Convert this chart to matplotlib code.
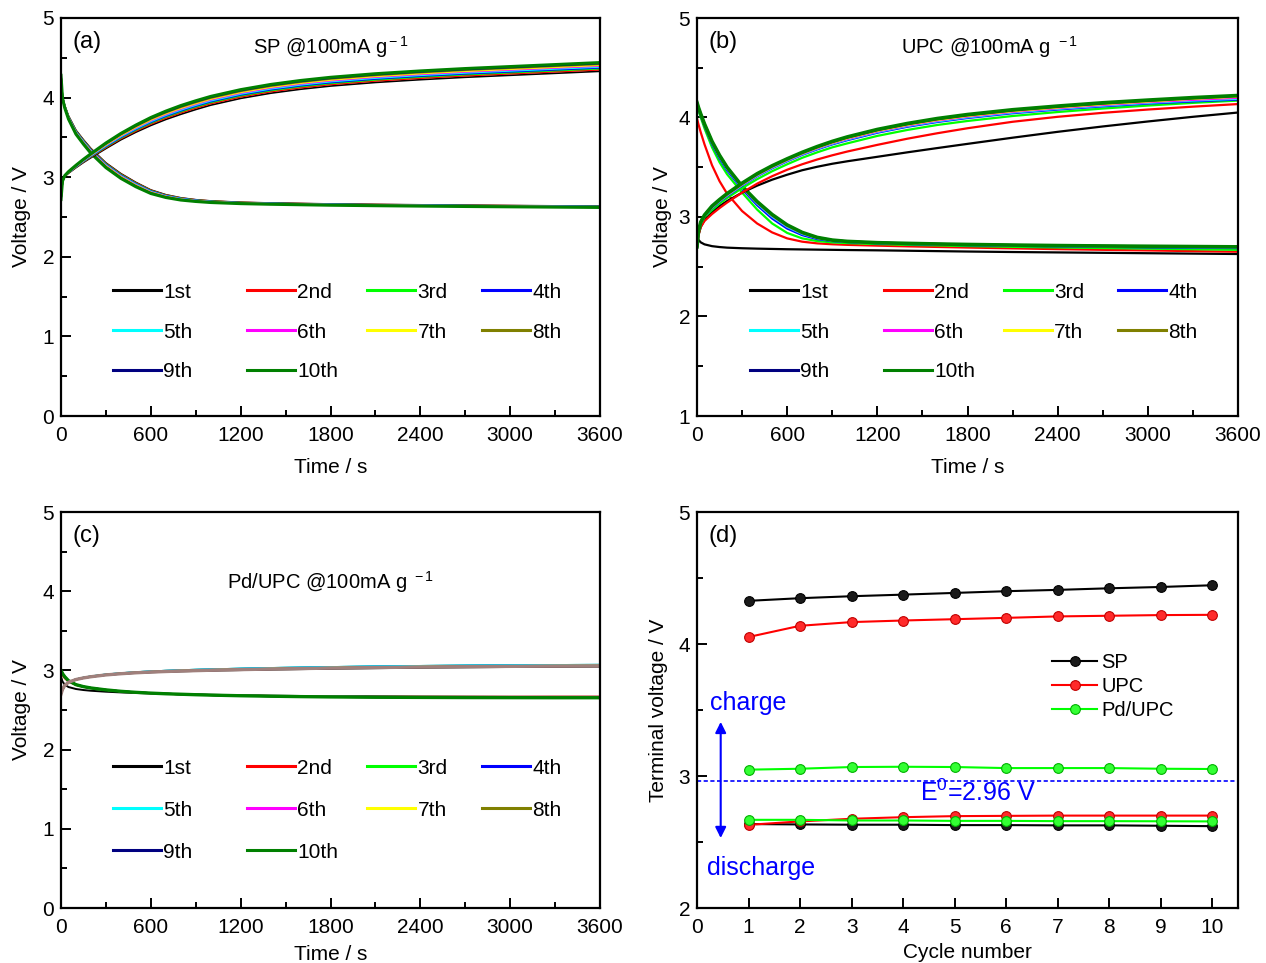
import matplotlib
matplotlib.use("Agg")
import matplotlib.pyplot as plt
from matplotlib.ticker import MultipleLocator
from matplotlib.lines import Line2D
from matplotlib.legend import Legend

plt.rcParams['font.family'] = ['Liberation Sans', 'DejaVu Sans']
plt.rcParams['mathtext.fontset'] = 'custom'
plt.rcParams['mathtext.rm'] = 'Liberation Sans'
plt.rcParams['mathtext.it'] = 'Liberation Sans:italic'

# ---------------- data ----------------
cycle_labels = ['1st', '2nd', '3rd', '4th', '5th', '6th', '7th', '8th', '9th', '10th']
cycle_colors = ['#000000', '#ff0000', '#00ff00', '#0000ff', '#00ffff',
                '#ff00ff', '#ffff00', '#808000', '#000080', '#008000']

time_s = [0, 10, 25, 50, 100, 150, 200, 300, 400, 500, 600, 700, 800, 900, 1000,
          1200, 1400, 1600, 1800, 2100, 2400, 2700, 3000, 3300, 3600]

# (a) SP
a_charge = [
    [2.72, 2.95, 3.01, 3.05, 3.12, 3.185, 3.245, 3.36, 3.47, 3.565, 3.65, 3.725, 3.79, 3.85, 3.905, 3.99, 4.055, 4.105, 4.145, 4.19, 4.225, 4.255, 4.28, 4.305, 4.33],
    [2.72, 2.95, 3.012, 3.053, 3.125, 3.192, 3.254, 3.372, 3.484, 3.58, 3.667, 3.743, 3.809, 3.869, 3.924, 4.009, 4.074, 4.124, 4.164, 4.209, 4.244, 4.274, 4.299, 4.324, 4.349],
    [2.72, 2.95, 3.013, 3.056, 3.129, 3.197, 3.26, 3.381, 3.494, 3.592, 3.68, 3.757, 3.823, 3.883, 3.938, 4.023, 4.088, 4.138, 4.178, 4.223, 4.258, 4.288, 4.313, 4.338, 4.363],
    [2.72, 2.95, 3.014, 3.058, 3.132, 3.201, 3.265, 3.388, 3.502, 3.601, 3.69, 3.767, 3.834, 3.894, 3.949, 4.034, 4.099, 4.149, 4.189, 4.234, 4.269, 4.299, 4.324, 4.349, 4.374],
    [2.72, 2.95, 3.015, 3.06, 3.135, 3.205, 3.27, 3.395, 3.51, 3.61, 3.70, 3.778, 3.845, 3.905, 3.96, 4.045, 4.11, 4.16, 4.20, 4.245, 4.28, 4.31, 4.335, 4.36, 4.385],
    [2.72, 2.95, 3.016, 3.062, 3.138, 3.209, 3.276, 3.403, 3.519, 3.62, 3.711, 3.789, 3.857, 3.917, 3.972, 4.057, 4.122, 4.172, 4.212, 4.257, 4.292, 4.322, 4.347, 4.372, 4.397],
    [2.72, 2.95, 3.017, 3.064, 3.141, 3.213, 3.28, 3.409, 3.526, 3.628, 3.72, 3.799, 3.867, 3.927, 3.982, 4.067, 4.132, 4.182, 4.222, 4.267, 4.302, 4.332, 4.357, 4.382, 4.407],
    [2.72, 2.95, 3.018, 3.066, 3.144, 3.217, 3.285, 3.416, 3.534, 3.637, 3.73, 3.809, 3.878, 3.938, 3.993, 4.078, 4.143, 4.193, 4.233, 4.278, 4.313, 4.343, 4.368, 4.393, 4.418],
    [2.72, 2.95, 3.019, 3.068, 3.147, 3.221, 3.29, 3.422, 3.541, 3.645, 3.739, 3.818, 3.888, 3.948, 4.003, 4.088, 4.153, 4.203, 4.243, 4.288, 4.323, 4.353, 4.378, 4.403, 4.428],
    [2.72, 2.95, 3.02, 3.07, 3.15, 3.225, 3.295, 3.43, 3.55, 3.655, 3.75, 3.83, 3.90, 3.96, 4.015, 4.10, 4.165, 4.215, 4.255, 4.30, 4.335, 4.365, 4.39, 4.415, 4.44],
]
a_discharge = [
    [4.28, 4.01, 3.90, 3.77, 3.59, 3.47, 3.36, 3.18, 3.045, 2.935, 2.84, 2.78, 2.741, 2.717, 2.702, 2.685, 2.676, 2.67, 2.664, 2.658, 2.653, 2.648, 2.644, 2.64, 2.636],
    [4.28, 4.008, 3.897, 3.766, 3.584, 3.464, 3.353, 3.173, 3.038, 2.929, 2.835, 2.776, 2.738, 2.715, 2.70, 2.683, 2.674, 2.668, 2.662, 2.656, 2.651, 2.646, 2.642, 2.638, 2.634],
    [4.28, 4.006, 3.893, 3.761, 3.579, 3.458, 3.347, 3.167, 3.032, 2.923, 2.83, 2.772, 2.735, 2.712, 2.698, 2.681, 2.672, 2.666, 2.66, 2.654, 2.649, 2.644, 2.64, 2.636, 2.632],
    [4.28, 4.003, 3.89, 3.757, 3.573, 3.452, 3.34, 3.16, 3.025, 2.917, 2.825, 2.768, 2.732, 2.71, 2.695, 2.679, 2.671, 2.665, 2.659, 2.653, 2.648, 2.643, 2.639, 2.635, 2.631],
    [4.28, 4.001, 3.887, 3.752, 3.568, 3.446, 3.333, 3.153, 3.018, 2.911, 2.82, 2.764, 2.729, 2.707, 2.693, 2.677, 2.669, 2.663, 2.657, 2.651, 2.646, 2.641, 2.637, 2.633, 2.629],
    [4.28, 3.999, 3.883, 3.748, 3.562, 3.439, 3.327, 3.147, 3.012, 2.904, 2.815, 2.761, 2.725, 2.705, 2.691, 2.676, 2.667, 2.661, 2.655, 2.649, 2.644, 2.639, 2.635, 2.631, 2.627],
    [4.28, 3.997, 3.88, 3.743, 3.557, 3.433, 3.32, 3.14, 3.005, 2.898, 2.81, 2.757, 2.722, 2.702, 2.689, 2.674, 2.665, 2.659, 2.653, 2.647, 2.642, 2.637, 2.633, 2.629, 2.625],
    [4.28, 3.994, 3.877, 3.739, 3.551, 3.427, 3.313, 3.133, 2.998, 2.892, 2.805, 2.753, 2.719, 2.70, 2.686, 2.672, 2.664, 2.658, 2.652, 2.646, 2.641, 2.636, 2.632, 2.628, 2.624],
    [4.28, 3.992, 3.873, 3.734, 3.546, 3.421, 3.307, 3.127, 2.992, 2.886, 2.80, 2.749, 2.716, 2.697, 2.684, 2.67, 2.662, 2.656, 2.65, 2.644, 2.639, 2.634, 2.63, 2.626, 2.622],
    [4.28, 3.99, 3.87, 3.73, 3.54, 3.415, 3.30, 3.12, 2.985, 2.88, 2.795, 2.745, 2.713, 2.695, 2.682, 2.668, 2.66, 2.654, 2.648, 2.642, 2.637, 2.632, 2.628, 2.624, 2.62],
]

# (b) UPC
b_charge = [
    [2.70, 2.82, 2.90, 2.97, 3.05, 3.11, 3.16, 3.245, 3.315, 3.375, 3.425, 3.47, 3.505, 3.535, 3.56, 3.605, 3.65, 3.693, 3.735, 3.797, 3.856, 3.91, 3.96, 4.007, 4.05],
    [2.70, 2.82, 2.90, 2.96, 3.03, 3.09, 3.145, 3.245, 3.335, 3.41, 3.475, 3.53, 3.578, 3.62, 3.658, 3.725, 3.787, 3.842, 3.892, 3.957, 4.007, 4.047, 4.08, 4.109, 4.135],
    [2.70, 2.84, 2.93, 3.00, 3.07, 3.135, 3.19, 3.29, 3.38, 3.46, 3.53, 3.595, 3.65, 3.70, 3.74, 3.815, 3.875, 3.925, 3.965, 4.015, 4.055, 4.09, 4.12, 4.147, 4.17],
    [2.70, 2.85, 2.94, 3.01, 3.09, 3.155, 3.21, 3.315, 3.41, 3.49, 3.56, 3.625, 3.68, 3.73, 3.772, 3.847, 3.907, 3.955, 3.995, 4.043, 4.08, 4.112, 4.14, 4.162, 4.18],
    [2.70, 2.852, 2.942, 3.012, 3.094, 3.159, 3.215, 3.32, 3.415, 3.495, 3.565, 3.63, 3.686, 3.736, 3.779, 3.854, 3.914, 3.962, 4.002, 4.05, 4.087, 4.119, 4.147, 4.17, 4.188],
    [2.70, 2.854, 2.944, 3.014, 3.098, 3.163, 3.22, 3.325, 3.42, 3.50, 3.57, 3.635, 3.691, 3.742, 3.785, 3.86, 3.92, 3.969, 4.009, 4.057, 4.094, 4.126, 4.154, 4.177, 4.198],
    [2.70, 2.856, 2.946, 3.016, 3.102, 3.167, 3.225, 3.33, 3.425, 3.505, 3.575, 3.64, 3.697, 3.748, 3.792, 3.867, 3.927, 3.976, 4.016, 4.064, 4.101, 4.134, 4.161, 4.188, 4.209],
    [2.70, 2.858, 2.948, 3.018, 3.105, 3.17, 3.229, 3.334, 3.429, 3.509, 3.579, 3.644, 3.701, 3.753, 3.797, 3.872, 3.932, 3.981, 4.021, 4.069, 4.106, 4.139, 4.166, 4.191, 4.214],
    [2.70, 2.859, 2.949, 3.019, 3.108, 3.173, 3.232, 3.337, 3.432, 3.512, 3.582, 3.647, 3.705, 3.756, 3.801, 3.876, 3.936, 3.986, 4.026, 4.074, 4.111, 4.144, 4.171, 4.196, 4.219],
    [2.70, 2.86, 2.95, 3.02, 3.11, 3.175, 3.235, 3.34, 3.435, 3.515, 3.585, 3.65, 3.708, 3.76, 3.805, 3.88, 3.94, 3.99, 4.03, 4.078, 4.115, 4.148, 4.175, 4.20, 4.221],
]
b_discharge = [
    [2.80, 2.77, 2.745, 2.725, 2.707, 2.698, 2.692, 2.686, 2.682, 2.679, 2.676, 2.674, 2.672, 2.67, 2.668, 2.665, 2.661, 2.657, 2.653, 2.648, 2.644, 2.64, 2.636, 2.632, 2.628],
    [3.99, 3.93, 3.85, 3.73, 3.52, 3.36, 3.235, 3.06, 2.935, 2.845, 2.785, 2.752, 2.735, 2.726, 2.72, 2.712, 2.705, 2.699, 2.693, 2.685, 2.677, 2.67, 2.664, 2.657, 2.651],
    [4.12, 4.07, 4.00, 3.89, 3.70, 3.55, 3.43, 3.245, 3.075, 2.935, 2.84, 2.785, 2.758, 2.745, 2.738, 2.728, 2.72, 2.714, 2.708, 2.70, 2.694, 2.688, 2.682, 2.676, 2.67],
    [4.135, 4.085, 4.018, 3.915, 3.733, 3.589, 3.469, 3.281, 3.119, 2.985, 2.884, 2.818, 2.778, 2.758, 2.748, 2.736, 2.728, 2.722, 2.717, 2.71, 2.705, 2.70, 2.695, 2.691, 2.688],
    [4.143, 4.093, 4.026, 3.924, 3.745, 3.603, 3.483, 3.294, 3.135, 3.003, 2.90, 2.83, 2.786, 2.762, 2.751, 2.739, 2.731, 2.725, 2.72, 2.714, 2.708, 2.704, 2.70, 2.696, 2.694],
    [4.146, 4.096, 4.03, 3.928, 3.751, 3.61, 3.49, 3.30, 3.143, 3.012, 2.908, 2.836, 2.789, 2.764, 2.753, 2.74, 2.733, 2.727, 2.722, 2.715, 2.71, 2.706, 2.702, 2.699, 2.697],
    [4.148, 4.098, 4.032, 3.931, 3.755, 3.614, 3.494, 3.305, 3.149, 3.018, 2.914, 2.84, 2.792, 2.766, 2.754, 2.741, 2.734, 2.728, 2.723, 2.717, 2.712, 2.708, 2.704, 2.701, 2.70],
    [4.149, 4.099, 4.034, 3.933, 3.758, 3.617, 3.497, 3.307, 3.152, 3.021, 2.917, 2.843, 2.794, 2.767, 2.755, 2.742, 2.735, 2.729, 2.724, 2.718, 2.713, 2.709, 2.706, 2.703, 2.70],
    [4.15, 4.10, 4.035, 3.934, 3.759, 3.619, 3.499, 3.309, 3.154, 3.023, 2.918, 2.844, 2.795, 2.768, 2.755, 2.742, 2.735, 2.729, 2.724, 2.718, 2.713, 2.709, 2.706, 2.703, 2.70],
    [4.15, 4.10, 4.035, 3.935, 3.76, 3.62, 3.50, 3.31, 3.155, 3.025, 2.92, 2.845, 2.795, 2.768, 2.755, 2.742, 2.735, 2.729, 2.724, 2.718, 2.713, 2.709, 2.706, 2.703, 2.70],
]

# (c) Pd/UPC
c_charge_low = [2.70, 2.76, 2.81, 2.85, 2.885, 2.905, 2.92, 2.943, 2.957, 2.968, 2.976, 2.983, 2.988, 2.993, 2.997, 3.004, 3.01, 3.016, 3.021, 3.028, 3.034, 3.039, 3.043, 3.046, 3.048]
c_charge_base = [2.70, 2.76, 2.81, 2.85, 2.885, 2.905, 2.92, 2.943, 2.958, 2.97, 2.979, 2.986, 2.992, 2.997, 3.002, 3.01, 3.017, 3.023, 3.029, 3.036, 3.042, 3.047, 3.051, 3.054, 3.056]
c_charge_mid = [2.70, 2.76, 2.81, 2.85, 2.886, 2.906, 2.922, 2.945, 2.961, 2.973, 2.982, 2.99, 2.996, 3.001, 3.006, 3.014, 3.021, 3.027, 3.033, 3.04, 3.046, 3.051, 3.055, 3.058, 3.06]
c_charge_high = [2.70, 2.76, 2.81, 2.85, 2.887, 2.908, 2.924, 2.948, 2.964, 2.977, 2.987, 2.995, 3.002, 3.008, 3.013, 3.022, 3.03, 3.036, 3.042, 3.05, 3.056, 3.061, 3.065, 3.068, 3.07]
c_charge = [c_charge_low, c_charge_base, c_charge_high, c_charge_high, c_charge_high,
            c_charge_mid, c_charge_mid, c_charge_mid, c_charge_base, c_charge_base]

c_dis_1st = [2.92, 2.86, 2.82, 2.79, 2.765, 2.752, 2.743, 2.731, 2.722, 2.715, 2.709, 2.704, 2.70, 2.696, 2.692, 2.686, 2.681, 2.677, 2.674, 2.671, 2.669, 2.668, 2.667, 2.667, 2.667]
c_dis_2nd = [2.98, 2.94, 2.90, 2.86, 2.815, 2.792, 2.776, 2.753, 2.735, 2.722, 2.712, 2.704, 2.698, 2.693, 2.689, 2.682, 2.677, 2.673, 2.67, 2.668, 2.667, 2.667, 2.667, 2.668, 2.668]
c_dis_3rd = [3.00, 2.96, 2.92, 2.87, 2.82, 2.795, 2.778, 2.754, 2.736, 2.723, 2.713, 2.705, 2.699, 2.694, 2.689, 2.682, 2.676, 2.672, 2.669, 2.666, 2.664, 2.663, 2.663, 2.663, 2.663]
c_dis_5th = [3.00, 2.96, 2.92, 2.87, 2.82, 2.795, 2.778, 2.754, 2.736, 2.723, 2.713, 2.705, 2.699, 2.693, 2.689, 2.681, 2.675, 2.67, 2.667, 2.664, 2.662, 2.661, 2.66, 2.66, 2.66]
c_dis_10th = [3.00, 2.96, 2.92, 2.87, 2.82, 2.795, 2.778, 2.754, 2.736, 2.723, 2.713, 2.705, 2.699, 2.693, 2.688, 2.68, 2.674, 2.669, 2.665, 2.661, 2.659, 2.657, 2.656, 2.655, 2.655]
c_discharge = [c_dis_1st, c_dis_2nd, c_dis_3rd, c_dis_3rd, c_dis_5th,
               c_dis_5th, c_dis_5th, c_dis_10th, c_dis_10th, c_dis_10th]
c_top_charge_color = '#a0807c'

# (d) terminal voltage vs cycle
cycles = [1, 2, 3, 4, 5, 6, 7, 8, 9, 10]
sp_charge = [4.327, 4.347, 4.362, 4.374, 4.387, 4.400, 4.410, 4.422, 4.432, 4.445]
upc_charge = [4.053, 4.138, 4.166, 4.178, 4.188, 4.198, 4.209, 4.214, 4.219, 4.221]
pd_charge = [3.048, 3.055, 3.068, 3.070, 3.068, 3.060, 3.060, 3.060, 3.055, 3.053]
sp_discharge = [2.636, 2.633, 2.631, 2.631, 2.628, 2.628, 2.626, 2.626, 2.623, 2.620]
upc_discharge = [2.630, 2.656, 2.676, 2.688, 2.696, 2.698, 2.700, 2.700, 2.700, 2.700]
pd_discharge = [2.668, 2.668, 2.663, 2.663, 2.660, 2.660, 2.658, 2.658, 2.657, 2.656]
e0_value = 2.965

# ---------------- figure ----------------
W, H = 1266, 963
fig = plt.figure(figsize=(W / 100, H / 100), dpi=100)


def px_axes(left, right, top, bottom):
    return fig.add_axes([left / W, 1 - bottom / H, (right - left) / W, (bottom - top) / H])


ax_a = px_axes(61, 600, 18, 416)
ax_b = px_axes(697, 1238, 18, 416)
ax_c = px_axes(61, 600, 512, 908)
ax_d = px_axes(697, 1238, 512, 908)

FS = 15


def style(ax, xlim, ylim, xmaj, xmin, ymaj, ymin):
    ax.set_xlim(*xlim)
    ax.set_ylim(*ylim)
    ax.xaxis.set_major_locator(MultipleLocator(xmaj))
    if xmin:
        ax.xaxis.set_minor_locator(MultipleLocator(xmin))
    ax.yaxis.set_major_locator(MultipleLocator(ymaj))
    ax.yaxis.set_minor_locator(MultipleLocator(ymin))
    ax.tick_params(which='both', direction='in', top=False, right=False,
                   labelsize=FS, width=1.4, color='black')
    ax.tick_params(which='major', length=7)
    ax.tick_params(which='minor', length=4)
    ax.tick_params(axis='x', pad=7)
    ax.tick_params(axis='y', pad=5)
    for s in ax.spines.values():
        s.set_linewidth(1.6)


def cycle_legend(ax, xs, ytop, spacing=1.0):
    groups = [[0, 4, 8], [1, 5, 9], [2, 6], [3, 7]]
    for j, idx in enumerate(groups):
        handles = [Line2D([], [], color=cycle_colors[i], lw=2.2) for i in idx]
        leg = Legend(ax, handles, [cycle_labels[i] for i in idx], loc='upper left',
                     bbox_to_anchor=(xs[j], ytop), bbox_transform=ax.transAxes,
                     frameon=False, borderpad=0, borderaxespad=0, handlelength=2.3,
                     handletextpad=0.12, labelspacing=spacing, fontsize=FS)
        ax.add_artist(leg)


def cycle_panel(ax, charge, discharge, lw, lw_last, top_charge_color=None):
    for k in range(10):
        w = lw_last if k == 9 else lw
        ax.plot(time_s, discharge[k], color=cycle_colors[k], lw=w)
    for k in range(10):
        w = lw_last if k == 9 else lw
        col = cycle_colors[k]
        if k == 9 and top_charge_color:
            col = top_charge_color
        ax.plot(time_s, charge[k], color=col, lw=w)


TFS = 14.5

# (a)
cycle_panel(ax_a, a_charge, a_discharge, 1.2, 2.2)
style(ax_a, (0, 3600), (0, 5), 600, 300, 1, 0.5)
ax_a.set_xlabel('Time / s', fontsize=FS)
ax_a.set_ylabel('Voltage / V', fontsize=FS)
ax_a.xaxis.set_label_coords(0.5, -0.105)
ax_a.yaxis.set_label_coords(-0.055, 0.5)
ax_a.text(0.022, 0.94, '(a)', transform=ax_a.transAxes, fontsize=17, va='center', ha='left')
ax_a.text(0.5, 0.927, r'SP @100mA g$^{\rm -1}$', transform=ax_a.transAxes,
          fontsize=TFS, va='center', ha='center')
cycle_legend(ax_a, [0.0965, 0.345, 0.568, 0.781], 0.335)

# (b)
cycle_panel(ax_b, b_charge, b_discharge, 1.6, 2.6)
style(ax_b, (0, 3600), (1, 5), 600, 300, 1, 0.5)
ax_b.set_xlabel('Time / s', fontsize=FS)
ax_b.set_ylabel('Voltage / V', fontsize=FS)
ax_b.xaxis.set_label_coords(0.5, -0.105)
ax_b.yaxis.set_label_coords(-0.047, 0.5)
ax_b.text(0.022, 0.94, '(b)', transform=ax_b.transAxes, fontsize=17, va='center', ha='left')
ax_b.text(0.54, 0.927, r'UPC @100mA g $^{\rm -1}$', transform=ax_b.transAxes,
          fontsize=TFS, va='center', ha='center')
cycle_legend(ax_b, [0.098, 0.345, 0.567, 0.778], 0.335)

# (c)
cycle_panel(ax_c, c_charge, c_discharge, 1.4, 2.4, top_charge_color=c_top_charge_color)
style(ax_c, (0, 3600), (0, 5), 600, 300, 1, 0.5)
ax_c.set_xlabel('Time / s', fontsize=FS)
ax_c.set_ylabel('Voltage / V', fontsize=FS)
ax_c.xaxis.set_label_coords(0.5, -0.093)
ax_c.yaxis.set_label_coords(-0.055, 0.5)
ax_c.text(0.022, 0.94, '(c)', transform=ax_c.transAxes, fontsize=17, va='center', ha='left')
ax_c.text(0.5, 0.823, r'Pd/UPC @100mA g $^{\rm -1}$', transform=ax_c.transAxes,
          fontsize=TFS, va='center', ha='center')
cycle_legend(ax_c, [0.0965, 0.345, 0.568, 0.781], 0.377, spacing=1.1)

# (d)
series_d = [
    ('SP', sp_charge, sp_discharge, '#000000', '#1a1a1a', '#000000'),
    ('UPC', upc_charge, upc_discharge, '#ff0000', '#ff2a2a', '#c00000'),
    ('Pd/UPC', pd_charge, pd_discharge, '#00ff00', '#33ff33', '#00b000'),
]
handles_d = []
for name, ch, dis, lc, fc, ec in series_d:
    h, = ax_d.plot(cycles, ch, color=lc, lw=1.5, marker='o', ms=7,
                   mfc=fc, mec=ec, mew=0.8, label=name)
    ax_d.plot(cycles, dis, color=lc, lw=1.5, marker='o', ms=7,
              mfc=fc, mec=ec, mew=0.8)
    handles_d.append(h)
style(ax_d, (0, 10.5), (2, 5), 1, None, 1, 0.5)
ax_d.axhline(e0_value, color='#0000ff', lw=1.2, ls=(0, (2.5, 1.5)))
ax_d.set_xlabel('Cycle number', fontsize=FS)
ax_d.set_ylabel('Terminal voltage / V', fontsize=FS)
ax_d.xaxis.set_label_coords(0.5, -0.088)
ax_d.yaxis.set_label_coords(-0.053, 0.5)
ax_d.text(0.022, 0.94, '(d)', transform=ax_d.transAxes, fontsize=17, va='center', ha='left')
ax_d.legend(handles_d, ['SP', 'UPC', 'Pd/UPC'], loc='upper left',
            bbox_to_anchor=(0.656, 0.645), frameon=False, borderpad=0, borderaxespad=0,
            handlelength=2.25, handletextpad=0.2, labelspacing=0.25, fontsize=14.5)
ax_d.annotate('', xy=(0.46, 2.53), xytext=(0.46, 3.41),
              arrowprops=dict(arrowstyle='<|-|>', color='#0000ff', lw=1.5,
                              mutation_scale=16, shrinkA=0, shrinkB=0))
ax_d.text(0.25, 3.55, 'charge', color='#0000ff', fontsize=18, va='center', ha='left')
ax_d.text(0.2, 2.30, 'discharge', color='#0000ff', fontsize=18, va='center', ha='left')
ax_d.text(4.32, 2.87, r'E$^{\rm 0}$=2.96 V', color='#0000ff', fontsize=18, va='center', ha='left')

fig.savefig('out.png', dpi=100)
